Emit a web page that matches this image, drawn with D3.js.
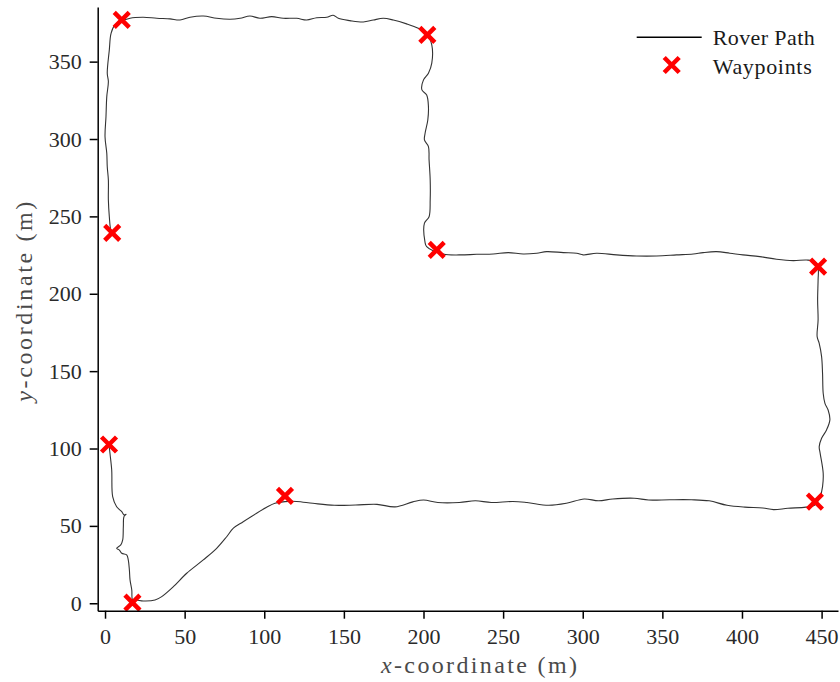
<!DOCTYPE html>
<html>
<head>
<meta charset="utf-8">
<script src="https://cdn.jsdelivr.net/npm/d3@7"></script>
<style>
  html, body { margin: 0; padding: 0; background: #fff; }
  svg { display: block; }
  text { font-family: "Liberation Serif", "DejaVu Serif", serif; }
</style>
</head>
<body>
<script>
// ---- data ----
const xTicks = [0, 50, 100, 150, 200, 250, 300, 350, 400, 450];
const yTicks = [0, 50, 100, 150, 200, 250, 300, 350];

const waypointX = [10.5, 202.4, 4.5, 208.3, 447.8, 2.5, 113.0, 445.8, 17.2];
const waypointY = [377.0, 367.3, 239.3, 228.3, 217.5, 102.6, 69.4, 65.7, 0.4];

const pathX = [2.5,3.1,4.2,4.8,7.3,10.5,11.9,13.2,11.9,11.5,11.1,9.9,7.3,9.0,10.5,13.6,14.6,15.3,15.7,16.8,17.4,19.9,24.0,31.4,35.6,42.9,51.3,61.7,70.1,76.4,80.6,86.8,95.2,101.5,106.7,113.0,120.4,130.5,144.0,157.4,170.8,182.1,193.3,200.0,209.0,222.5,232.6,242.6,256.1,265.0,278.5,289.7,300.9,309.9,318.9,332.3,341.3,354.7,368.2,379.4,390.6,401.8,413.1,419.8,428.8,440.1,445.8,449.1,450.6,451.0,449.1,448.5,450.0,453.1,455.2,454.1,452.1,451.0,450.6,450.0,448.5,447.2,447.8,447.5,447.8,447.8,445.8,440.6,432.2,421.7,411.2,400.6,392.4,384.0,375.6,369.4,358.9,346.4,333.8,321.3,308.7,300.3,296.2,287.8,277.3,271.1,262.6,253.2,243.8,233.4,222.9,212.4,202.0,200.9,200.6,203.5,204.2,204.2,203.5,203.1,200.6,201.0,202.7,203.1,202.0,199.0,200.0,203.1,205.2,205.2,201.9,196.7,189.4,181.0,174.7,168.5,162.2,153.8,146.5,143.3,139.2,132.9,126.6,120.4,111.9,104.7,97.3,91.0,84.8,78.5,70.1,61.7,53.4,47.1,40.8,32.5,24.0,15.7,6.3,3.8,2.7,1.4,2.1,1.1,0.6,0.0,1.1,1.4,2.1,2.1,2.7,3.6,4.5];
const pathY = [102.6,96.9,86.1,68.9,62.4,59.2,57.1,57.5,56.0,49.5,40.9,37.7,35.5,34.4,32.3,31.2,28.0,21.5,15.1,8.6,2.1,2.1,1.5,2.1,4.3,10.7,19.4,28.0,35.5,43.0,48.5,52.7,58.2,62.0,64.6,65.7,65.8,64.6,63.3,63.5,63.9,62.3,65.5,66.7,65.1,65.1,66.2,65.1,65.8,65.1,63.3,64.6,67.4,66.2,67.4,67.9,66.7,66.9,66.9,66.2,63.3,62.1,61.6,60.5,61.4,62.1,63.5,68.9,75.4,84.0,96.9,101.2,106.6,112.0,118.5,124.9,129.2,135.7,148.6,159.4,168.0,172.3,183.1,196.0,208.9,216.5,220.7,221.8,221.4,222.3,224.0,225.1,226.2,227.2,226.6,225.7,225.1,224.4,224.4,225.1,226.2,225.1,226.2,226.6,227.2,226.2,225.7,226.6,225.7,225.5,225.1,225.7,230.4,233.7,245.6,249.8,260.6,273.5,286.5,295.1,299.4,303.7,312.3,320.9,328.5,331.7,338.2,342.5,349.0,360.8,368.3,371.6,374.4,376.9,378.0,376.9,375.6,376.5,378.0,380.0,378.7,378.4,376.9,378.0,378.0,379.1,378.0,379.5,378.0,377.4,378.0,379.5,378.7,376.9,377.6,378.0,378.7,378.0,373.7,368.3,357.6,342.5,337.1,327.4,314.4,301.5,290.8,282.1,273.5,260.6,249.8,241.2,239.3];

const legendLabels = ["Rover Path", "Waypoints"];
const xLabelText = "-coordinate (m)";
const yLabelText = "-coordinate (m)";

// ---- layout ----
const W = 840, H = 682;
const xDomain = [-4.6, 460.3];
const yDomain = [-4.8, 385.3];
const plot = { left: 97.7, right: 838, top: 7, bottom: 610.7 };

const svg = d3.select("body").append("svg")
  .attr("width", W).attr("height", H);

const x = d3.scaleLinear().domain(xDomain).range([plot.left, plot.right]);
const y = d3.scaleLinear().domain(yDomain).range([plot.bottom, plot.top]);

// path
const pts = pathX.map((v, i) => [v, pathY[i]]);
svg.append("path")
  .datum(pts)
  .attr("fill", "none")
  .attr("stroke", "#333")
  .attr("stroke-width", 1.1)
  .attr("stroke-linejoin", "round")
  .attr("d", d3.line().curve(d3.curveCatmullRom.alpha(0.5)).x(d => x(d[0])).y(d => y(d[1])));

// waypoint markers
const h = 7.5;
const xMark = `M${-h},${-h}L${h},${h}M${-h},${h}L${h},${-h}`;
svg.append("g").selectAll("path")
  .data(waypointX.map((v, i) => [v, waypointY[i]]))
  .join("path")
  .attr("transform", d => `translate(${x(d[0])},${y(d[1])})`)
  .attr("d", xMark)
  .attr("fill", "none")
  .attr("stroke", "#ff0000")
  .attr("stroke-width", 4.5);

// axes
const gx = svg.append("g")
  .attr("transform", `translate(0,${plot.bottom})`)
  .call(d3.axisBottom(x).tickValues(xTicks).tickSize(8).tickSizeOuter(0).tickPadding(10));
const gy = svg.append("g")
  .attr("transform", `translate(${plot.left},0)`)
  .call(d3.axisLeft(y).tickValues(yTicks).tickSize(8).tickSizeOuter(0).tickPadding(8));

[gx, gy].forEach(g => {
  g.select(".domain").attr("stroke", "#000").attr("stroke-width", 1.5);
  g.selectAll(".tick line").attr("stroke", "#000").attr("stroke-width", 1.5);
  g.selectAll(".tick text")
    .attr("font-family", '"Liberation Serif", "DejaVu Serif", serif')
    .attr("font-size", 22)
    .attr("fill", "#2a2a2a");
});

// axis labels
const xl = svg.append("text")
  .attr("x", 479).attr("y", 673)
  .attr("text-anchor", "middle")
  .attr("font-size", 24)
  .attr("fill", "#4a4a4a")
  .attr("textLength", 196)
  .attr("lengthAdjust", "spacing");
xl.append("tspan").attr("font-style", "italic").text("x");
xl.append("tspan").text(xLabelText);

const yl = svg.append("text")
  .attr("transform", "translate(32,301.7) rotate(-90)")
  .attr("text-anchor", "middle")
  .attr("font-size", 24)
  .attr("fill", "#4a4a4a")
  .attr("textLength", 200)
  .attr("lengthAdjust", "spacing");
yl.append("tspan").attr("font-style", "italic").text("y");
yl.append("tspan").text(yLabelText);

// legend
const lg = svg.append("g");
lg.append("line")
  .attr("x1", 636.7).attr("x2", 701.7)
  .attr("y1", 37.3).attr("y2", 37.3)
  .attr("stroke", "#000").attr("stroke-width", 1.5);
lg.append("path")
  .attr("transform", "translate(671.7,65)")
  .attr("d", xMark)
  .attr("fill", "none")
  .attr("stroke", "#ff0000")
  .attr("stroke-width", 4.5);
lg.append("text")
  .attr("x", 712.7).attr("y", 45)
  .attr("font-size", 22).attr("fill", "#1a1a1a")
  .attr("textLength", 102).attr("lengthAdjust", "spacing")
  .text(legendLabels[0]);
lg.append("text")
  .attr("x", 712.7).attr("y", 74)
  .attr("font-size", 22).attr("fill", "#1a1a1a")
  .attr("textLength", 99).attr("lengthAdjust", "spacing")
  .text(legendLabels[1]);
</script>
</body>
</html>
